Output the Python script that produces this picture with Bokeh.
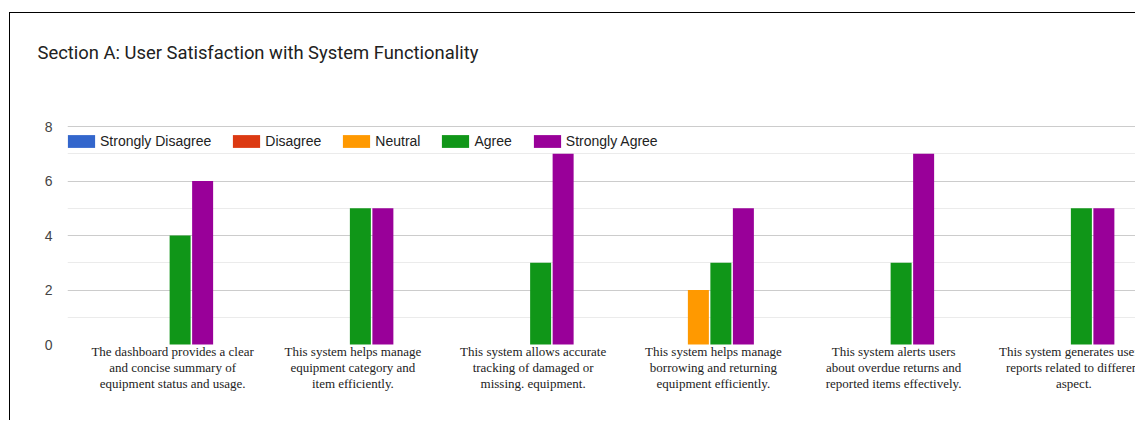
from bokeh.plotting import figure
from bokeh.models import ColumnDataSource, Range1d, FixedTicker, Legend, LegendItem
from bokeh.core.properties import value
from bokeh.embed import file_html
from bokeh.resources import INLINE

title_text = "Section A: User Satisfaction with System Functionality"

questions = [
    ["The dashboard provides a clear", "and concise summary of", "equipment status and usage."],
    ["This system helps manage", "equipment category and", "item efficiently."],
    ["This system allows accurate", "tracking of damaged or", "missing. equipment."],
    ["This system helps manage", "borrowing and returning", "equipment efficiently."],
    ["This system alerts users", "about overdue returns and", "reported items effectively."],
    ["This system generates useful", "reports related to different", "aspect."],
]

series_names = ["Strongly Disagree", "Disagree", "Neutral", "Agree", "Strongly Agree"]
series_colors = ["#3366CC", "#DC3912", "#FF9900", "#109618", "#990099"]

strongly_disagree = [0, 0, 0, 0, 0, 0]
disagree = [0, 0, 0, 0, 0, 0]
neutral = [0, 0, 0, 2, 0, 0]
agree = [4, 5, 3, 3, 3, 5]
strongly_agree = [6, 5, 7, 5, 7, 5]
series_values = [strongly_disagree, disagree, neutral, agree, strongly_agree]

y_ticks = [0, 2, 4, 6, 8]
y_minor = [1, 3, 5, 7]

# layout constants (pixels)
cat_px = 180.25
frame_left = 57
frame_top = 70
fig_w = 1126
fig_h = 408
unit_px = 27.25
zero_px_from_bottom = 421 - 344

x_end = (fig_w - frame_left) / cat_px
y_start = -zero_px_from_bottom / unit_px
y_end = y_start + (fig_h - frame_top) / unit_px

p = figure(width=fig_w, height=fig_h, output_backend="svg", toolbar_location=None,
           x_range=Range1d(0, x_end), y_range=Range1d(y_start, y_end),
           min_border_left=frame_left, min_border_top=frame_top,
           min_border_right=0, min_border_bottom=0)
p.styles = {"margin-left": "9px", "margin-top": "12px",
            "border-left": "1px solid #000000", "border-top": "1px solid #000000"}
p.outline_line_color = None
p.xaxis.visible = False
p.xgrid.visible = False

p.title.text = title_text
p.title.text_font = "Roboto"
p.title.text_font_size = "18.4px"
p.title.text_font_style = "normal"
p.title.text_color = "#212121"
p.title.align = "left"
p.title.offset = -30
p.title.standoff = 42

yax = p.yaxis[0]
yax.ticker = FixedTicker(ticks=y_ticks, minor_ticks=y_minor)
yax.axis_line_color = None
yax.major_tick_line_color = None
yax.minor_tick_line_color = None
yax.major_label_text_font = "Liberation Sans"
yax.major_label_text_font_size = "14px"
yax.major_label_text_color = "#444444"
yax.major_label_standoff = 9

g = p.ygrid[0]
g.ticker = FixedTicker(ticks=[t for t in y_ticks if t > 0], minor_ticks=y_minor)
g.grid_line_color = "#cccccc"
g.minor_grid_line_color = "#ebebeb"

bar_w = 21.0 / cat_px
bar_pitch = 22.5 / cat_px
items = []
for k, (name, color, vals) in enumerate(zip(series_names, series_colors, series_values)):
    xs = [i + 0.5 + (k - 2) * bar_pitch for i in range(len(vals))]
    src = ColumnDataSource(dict(x=xs, top=vals))
    r = p.vbar(x="x", top="top", bottom=0, width=bar_w, source=src,
               fill_color=color, line_color=None)
    items.append(LegendItem(label=name, renderers=[r]))

legend = Legend(items=items, orientation="horizontal", location=(-3, 272),
                padding=0, margin=0, spacing=18, glyph_width=34, glyph_height=16,
                label_height=16, label_standoff=2, label_text_font="Liberation Sans",
                label_text_font_size="14px", label_text_color="#222222",
                border_line_color=None, background_fill_alpha=0)
p.add_layout(legend, "center")

lx, ly, lt, lo = [], [], [], []
for i, lines in enumerate(questions):
    for j, line in enumerate(lines):
        lx.append(i + 0.5)
        ly.append(0)
        lt.append(line)
        lo.append(7 + 16 * j)
lsrc = ColumnDataSource(dict(x=lx, y=ly, text=lt, yo=lo))
p.text(x="x", y="y", text="text", y_offset="yo", x_offset=15, source=lsrc,
       text_font=value("Liberation Serif"), text_font_size="13px",
       text_color="#222222", text_align="center", text_baseline="middle")

open("out.html", "w").write(file_html(p, INLINE))
